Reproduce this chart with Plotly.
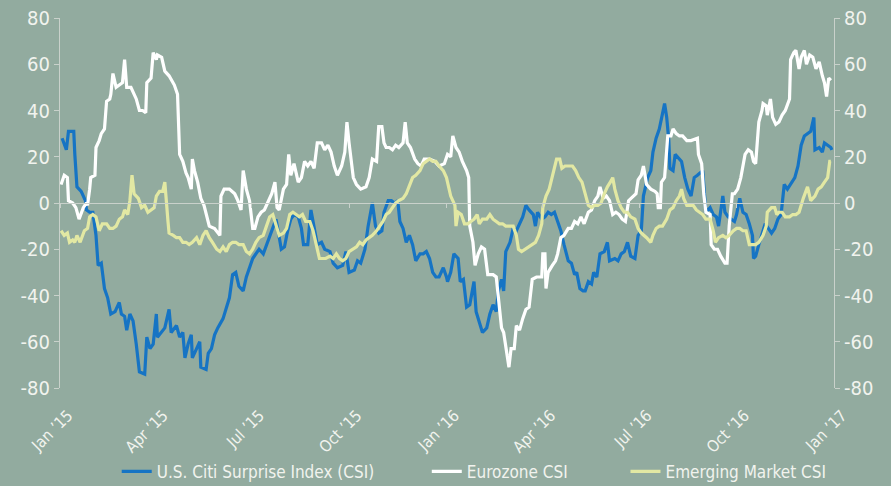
import plotly.graph_objects as go

# ---------------- data ----------------
us_dates = ["2015-01-03","2015-01-07","2015-01-09","2015-01-14","2015-01-15","2015-01-17","2015-01-21","2015-01-25","2015-01-26","2015-01-29",
"2015-02-01","2015-02-04","2015-02-06","2015-02-09","2015-02-12","2015-02-15","2015-02-18","2015-02-22","2015-02-26","2015-02-28",
"2015-03-03","2015-03-05","2015-03-08","2015-03-11","2015-03-14","2015-03-17","2015-03-22","2015-03-24","2015-03-27","2015-03-30",
"2015-04-02","2015-04-03","2015-04-10","2015-04-14","2015-04-16","2015-04-21","2015-04-24","2015-04-27","2015-04-29","2015-05-02",
"2015-05-05","2015-05-06","2015-05-10","2015-05-13","2015-05-14","2015-05-19","2015-05-21","2015-05-24","2015-05-27","2015-05-30",
"2015-06-04","2015-06-07","2015-06-10","2015-06-13","2015-06-16","2015-06-19","2015-06-23","2015-06-26","2015-06-29","2015-07-02",
"2015-07-05","2015-07-08","2015-07-12","2015-07-15","2015-07-18","2015-07-21","2015-07-24","2015-07-26","2015-07-29","2015-08-01",
"2015-08-04","2015-08-07","2015-08-10","2015-08-14","2015-08-17","2015-08-19","2015-08-23","2015-08-26","2015-08-29","2015-09-01",
"2015-09-05","2015-09-08","2015-09-13","2015-09-16","2015-09-20","2015-09-25","2015-09-28","2015-10-01","2015-10-06","2015-10-09",
"2015-10-12","2015-10-16","2015-10-19","2015-10-23","2015-10-26","2015-10-29","2015-11-01","2015-11-03","2015-11-07","2015-11-10",
"2015-11-13","2015-11-16","2015-11-18","2015-11-21","2015-11-24","2015-11-27","2015-11-30","2015-12-03","2015-12-07","2015-12-10",
"2015-12-13","2015-12-16","2015-12-19","2015-12-22","2015-12-25","2015-12-29","2016-01-01","2016-01-02","2016-01-05","2016-01-08",
"2016-01-12","2016-01-14","2016-01-17","2016-01-20","2016-01-23","2016-01-27","2016-01-29","2016-02-01","2016-02-04","2016-02-08",
"2016-02-11","2016-02-14","2016-02-17","2016-02-19","2016-02-22","2016-02-24","2016-02-26","2016-03-01","2016-03-04","2016-03-07",
"2016-03-10","2016-03-13","2016-03-16","2016-03-19","2016-03-23","2016-03-25","2016-03-27","2016-03-31","2016-04-03","2016-04-06",
"2016-04-09","2016-04-12","2016-04-15","2016-04-18","2016-04-21","2016-04-25","2016-04-28","2016-05-01","2016-05-03","2016-05-06",
"2016-05-09","2016-05-11","2016-05-14","2016-05-17","2016-05-19","2016-05-22","2016-05-25","2016-05-29","2016-06-01","2016-06-03",
"2016-06-08","2016-06-11","2016-06-14","2016-06-17","2016-06-20","2016-06-23","2016-06-27","2016-06-30","2016-07-03","2016-07-05",
"2016-07-09","2016-07-12","2016-07-14","2016-07-17","2016-07-20","2016-07-23","2016-07-25","2016-07-27","2016-07-29","2016-07-30",
"2016-08-02","2016-08-04","2016-08-08","2016-08-10","2016-08-13","2016-08-16","2016-08-19","2016-08-22","2016-08-25","2016-08-30",
"2016-09-02","2016-09-06","2016-09-09","2016-09-12","2016-09-14","2016-09-18","2016-09-20","2016-09-23","2016-09-26","2016-09-29",
"2016-10-01","2016-10-04","2016-10-07","2016-10-10","2016-10-13","2016-10-16","2016-10-17","2016-10-19","2016-10-22","2016-10-25",
"2016-10-28","2016-10-31","2016-11-03","2016-11-06","2016-11-09","2016-11-12","2016-11-15","2016-11-18","2016-11-22","2016-11-25",
"2016-11-28","2016-12-01","2016-12-04","2016-12-07","2016-12-10","2016-12-13","2016-12-14","2016-12-18","2016-12-21","2016-12-23",
"2016-12-26","2016-12-29","2016-12-30"]
us_csi = [28,23,31,31,21,7,5,1,-3,-4,
-4,-14,-27,-26,-37,-41,-48,-47,-43,-48,
-49,-55,-48,-51,-61,-73,-74,-58,-63,-61,
-48,-58,-54,-46,-56,-53,-58,-56,-67,-61,
-57,-67,-63,-60,-71,-72,-65,-63,-57,-54,
-50,-45,-41,-31,-30,-36,-38,-32,-28,-24,
-22,-20,-22,-18,-15,-11,-7,-12,-20,-19,
-12,-7,-5,-6,-11,-18,-18,-3,-11,-18,
-17,-20,-21,-26,-28,-27,-21,-30,-29,-25,
-26,-20,-10,0,-10,-13,-12,-4,1,1,
0,1,-8,-11,-17,-14,-18,-25,-22,-22,
-21,-24,-30,-32,-32,-28,-32,-34,-30,-22,
-24,-34,-33,-45,-44,-34,-47,-51,-56,-54,
-48,-44,-47,-38,-33,-38,-21,-17,-11,-12,
-9,-6,-1,-3,-5,-10,-4,-7,-6,-4,
-5,-4,-8,-12,-18,-25,-26,-31,-30,-37,
-38,-38,-34,-35,-30,-32,-22,-21,-17,-25,
-24,-25,-22,-21,-17,-23,-24,-14,-12,3,
11,14,22,28,32,38,43,37,27,15,
14,21,19,18,11,6,3,11,12,14,
-4,-2,-5,-6,-10,3,-4,-6,-7,-8,
-5,2,-4,-5,-9,-14,-24,-23,-18,-14,
-9,-11,-13,-11,-7,-5,8,6,9,11,
16,25,29,30,31,37,23,24,22,26,
25,24,23]

ez_dates = ["2015-01-02","2015-01-05","2015-01-08","2015-01-09","2015-01-13","2015-01-16","2015-01-19","2015-01-23","2015-01-26","2015-01-27",
"2015-01-29","2015-01-30","2015-02-03","2015-02-04","2015-02-07","2015-02-09","2015-02-12","2015-02-14","2015-02-17","2015-02-18",
"2015-02-20","2015-02-23","2015-02-26","2015-03-01","2015-03-03","2015-03-05","2015-03-09","2015-03-14","2015-03-17","2015-03-20",
"2015-03-23","2015-03-24","2015-03-28","2015-03-30","2015-04-02","2015-04-03","2015-04-07","2015-04-10","2015-04-14","2015-04-19",
"2015-04-22","2015-04-24","2015-04-27","2015-04-30","2015-05-02","2015-05-05","2015-05-06","2015-05-08","2015-05-11","2015-05-14",
"2015-05-17","2015-05-19","2015-05-22","2015-05-27","2015-06-01","2015-06-02","2015-06-05","2015-06-10","2015-06-15","2015-06-18",
"2015-06-21","2015-06-23","2015-06-26","2015-06-29","2015-07-02","2015-07-04","2015-07-07","2015-07-10","2015-07-13","2015-07-16",
"2015-07-20","2015-07-23","2015-07-25","2015-07-27","2015-07-31","2015-08-03","2015-08-05","2015-08-07","2015-08-10","2015-08-14",
"2015-08-17","2015-08-20","2015-08-23","2015-08-26","2015-08-29","2015-09-01","2015-09-05","2015-09-08","2015-09-11","2015-09-14",
"2015-09-17","2015-09-20","2015-09-24","2015-09-27","2015-09-29","2015-10-01","2015-10-05","2015-10-08","2015-10-12","2015-10-17",
"2015-10-20","2015-10-23","2015-10-27","2015-10-29","2015-11-01","2015-11-03","2015-11-05","2015-11-08","2015-11-11","2015-11-14",
"2015-11-17","2015-11-21","2015-11-23","2015-11-25","2015-11-28","2015-12-02","2015-12-05","2015-12-08","2015-12-11","2015-12-16",
"2015-12-21","2015-12-25","2015-12-30","2016-01-02","2016-01-05","2016-01-07","2016-01-10","2016-01-13","2016-01-16","2016-01-20",
"2016-01-22","2016-01-23","2016-01-26","2016-01-28","2016-01-31","2016-02-03","2016-02-06","2016-02-09","2016-02-14","2016-02-17",
"2016-02-19","2016-02-22","2016-02-24","2016-02-26","2016-02-29","2016-03-02","2016-03-05","2016-03-07","2016-03-10","2016-03-13",
"2016-03-16","2016-03-19","2016-03-22","2016-03-26","2016-03-31","2016-04-01","2016-04-03","2016-04-04","2016-04-06","2016-04-10",
"2016-04-13","2016-04-15","2016-04-18","2016-04-21","2016-04-25","2016-04-28","2016-05-01","2016-05-04","2016-05-07","2016-05-10",
"2016-05-14","2016-05-17","2016-05-20","2016-05-23","2016-05-25","2016-05-28","2016-05-31","2016-06-03","2016-06-06","2016-06-09",
"2016-06-12","2016-06-15","2016-06-18","2016-06-21","2016-06-25","2016-06-28","2016-06-30","2016-07-03","2016-07-05","2016-07-08",
"2016-07-12","2016-07-16","2016-07-18","2016-07-19","2016-07-21","2016-07-22","2016-07-25","2016-07-27","2016-07-28","2016-07-31",
"2016-08-02","2016-08-05","2016-08-08","2016-08-11","2016-08-15","2016-08-19","2016-08-25","2016-08-26","2016-08-29","2016-08-31",
"2016-09-02","2016-09-06","2016-09-07","2016-09-10","2016-09-13","2016-09-16","2016-09-20","2016-09-22","2016-09-24","2016-09-27",
"2016-09-29","2016-10-02","2016-10-05","2016-10-09","2016-10-12","2016-10-15","2016-10-17","2016-10-19","2016-10-22","2016-10-25",
"2016-10-26","2016-10-29","2016-10-30","2016-11-02","2016-11-04","2016-11-07","2016-11-10","2016-11-13","2016-11-16","2016-11-20",
"2016-11-21","2016-11-24","2016-11-26","2016-11-29","2016-12-01","2016-12-04","2016-12-06","2016-12-09","2016-12-12","2016-12-15",
"2016-12-18","2016-12-21","2016-12-23","2016-12-25","2016-12-27","2016-12-29"]
ez_csi = [8,12,11,1,0,-2,-7,-2,0,-1,
6,11,12,24,27,30,32,44,45,47,
56,50,51,52,62,50,50,45,40,40,
39,52,54,65,62,64,63,57,55,51,
47,21,18,13,11,6,19,14,9,2,
-1,-5,-10,-11,-14,3,6,6,4,1,
-3,14,6,1,-11,-11,-6,-4,-3,0,
4,9,-2,-3,6,8,21,12,17,9,
11,18,16,18,15,26,26,23,25,22,
16,12,16,22,35,26,11,8,6,7,
11,19,18,33,33,26,24,24,23,25,
24,26,35,26,24,19,17,16,19,19,
18,16,17,21,20,29,24,22,18,14,
11,-10,-17,-27,-22,-19,-20,-31,-31,-32,
-40,-54,-56,-63,-71,-63,-63,-53,-55,-50,
-46,-45,-33,-32,-32,-22,-22,-37,-30,-27,
-25,-22,-15,-14,-11,-11,-8,-9,-6,-9,
-4,-3,1,3,7,2,3,1,-5,-4,
-5,-7,-8,1,3,4,10,12,16,8,
6,5,4,-2,-2,9,11,25,29,29,
32,30,29,29,27,27,28,21,17,4,
-4,-5,-18,-20,-20,-23,-26,-26,-10,4,
4,6,11,21,23,22,18,17,35,40,
43,42,38,45,37,34,35,38,40,45,
62,65,66,58,63,66,60,64,63,58,
61,55,52,46,54,53]

em_dates = ["2015-01-02","2015-01-05","2015-01-08","2015-01-10","2015-01-13","2015-01-15","2015-01-17","2015-01-20","2015-01-24","2015-01-27",
"2015-01-29","2015-02-01","2015-02-04","2015-02-07","2015-02-10","2015-02-14","2015-02-17","2015-02-20","2015-02-23","2015-02-26",
"2015-03-01","2015-03-03","2015-03-06","2015-03-08","2015-03-10","2015-03-12","2015-03-16","2015-03-19","2015-03-22","2015-03-25",
"2015-03-28","2015-03-31","2015-04-02","2015-04-05","2015-04-08","2015-04-10","2015-04-13","2015-04-14","2015-04-18","2015-04-21",
"2015-04-24","2015-04-27","2015-04-30","2015-05-03","2015-05-06","2015-05-10","2015-05-13","2015-05-16","2015-05-19","2015-05-22",
"2015-05-25","2015-05-29","2015-06-01","2015-06-04","2015-06-07","2015-06-10","2015-06-13","2015-06-16","2015-06-19","2015-06-23",
"2015-06-26","2015-06-29","2015-07-02","2015-07-05","2015-07-08","2015-07-12","2015-07-15","2015-07-18","2015-07-21","2015-07-24",
"2015-07-27","2015-07-31","2015-08-03","2015-08-06","2015-08-09","2015-08-12","2015-08-15","2015-08-18","2015-08-21","2015-08-25",
"2015-08-28","2015-08-31","2015-09-03","2015-09-06","2015-09-09","2015-09-13","2015-09-16","2015-09-19","2015-09-22","2015-09-25",
"2015-09-28","2015-10-01","2015-10-05","2015-10-08","2015-10-11","2015-10-14","2015-10-17","2015-10-20","2015-10-23","2015-10-27",
"2015-10-30","2015-11-02","2015-11-05","2015-11-08","2015-11-11","2015-11-14","2015-11-17","2015-11-21","2015-11-24","2015-11-27",
"2015-11-30","2015-12-03","2015-12-07","2015-12-10","2015-12-13","2015-12-16","2015-12-19","2015-12-22","2015-12-25","2015-12-29",
"2016-01-01","2016-01-05","2016-01-09","2016-01-10","2016-01-12","2016-01-15","2016-01-18","2016-01-21","2016-01-24","2016-01-27",
"2016-01-30","2016-02-01","2016-02-04","2016-02-08","2016-02-11","2016-02-14","2016-02-17","2016-02-20","2016-02-23","2016-02-26",
"2016-03-01","2016-03-04","2016-03-07","2016-03-09","2016-03-12","2016-03-15","2016-03-18","2016-03-22","2016-03-25","2016-03-28",
"2016-03-31","2016-04-01","2016-04-04","2016-04-07","2016-04-10","2016-04-14","2016-04-17","2016-04-19","2016-04-22","2016-04-25",
"2016-04-29","2016-05-02","2016-05-05","2016-05-08","2016-05-10","2016-05-14","2016-05-17","2016-05-20","2016-05-23","2016-05-26",
"2016-05-29","2016-06-01","2016-06-05","2016-06-06","2016-06-08","2016-06-11","2016-06-14","2016-06-17","2016-06-20","2016-06-23",
"2016-06-27","2016-06-30","2016-07-03","2016-07-06","2016-07-08","2016-07-12","2016-07-14","2016-07-17","2016-07-20","2016-07-23",
"2016-07-27","2016-07-30","2016-08-02","2016-08-05","2016-08-08","2016-08-10","2016-08-12","2016-08-15","2016-08-18","2016-08-21",
"2016-08-24","2016-08-27","2016-08-30","2016-09-02","2016-09-06","2016-09-09","2016-09-11","2016-09-14","2016-09-18","2016-09-21",
"2016-09-24","2016-09-28","2016-10-01","2016-10-04","2016-10-07","2016-10-10","2016-10-13","2016-10-16","2016-10-19","2016-10-22",
"2016-10-26","2016-10-29","2016-10-30","2016-11-03","2016-11-06","2016-11-08","2016-11-10","2016-11-13","2016-11-16","2016-11-20",
"2016-11-23","2016-11-26","2016-11-29","2016-12-03","2016-12-06","2016-12-07","2016-12-10","2016-12-14","2016-12-17","2016-12-20",
"2016-12-23","2016-12-26","2016-12-28","2016-12-29"]
em_csi = [-12,-14,-13,-17,-16,-17,-14,-17,-12,-11,
-6,-5,-6,-12,-9,-9,-11,-11,-10,-7,
-6,-3,-5,1,12,4,2,-2,-1,-4,
-3,-2,3,5,5,9,-8,-13,-14,-15,
-15,-17,-17,-18,-17,-15,-18,-14,-12,-15,
-17,-20,-21,-19,-21,-18,-17,-17,-18,-18,
-21,-22,-20,-17,-15,-14,-10,-6,-5,-9,
-14,-13,-11,-5,-4,-5,-6,-5,-8,-8,
-12,-18,-24,-24,-24,-23,-24,-22,-24,-25,
-24,-21,-20,-19,-17,-18,-16,-15,-14,-12,
-10,-8,-5,-4,-2,0,1,2,4,8,
11,12,14,17,18,19,18,18,16,14,
11,3,-1,-10,-4,-5,-9,-9,-8,-7,
-5,-9,-7,-7,-5,-7,-8,-9,-9,-10,
-10,-10,-14,-20,-21,-20,-19,-18,-17,-14,
-9,-2,3,6,11,19,19,15,16,16,
16,14,11,9,6,-1,-2,-1,-1,0,
4,7,10,11,6,1,-2,-4,-4,-6,
-7,-11,-13,-14,-15,-17,-14,-11,-10,-10,
-7,-3,-2,1,3,6,2,-1,-1,-1,
-3,-4,-5,-7,-7,-12,-17,-15,-14,-15,
-14,-12,-11,-11,-12,-12,-18,-18,-18,-17,
-14,-10,-4,-2,-2,-5,-4,-4,-6,-6,
-5,-5,-4,2,6,7,1,3,6,7,
9,11,18,18]

tick_dates = ["2015-01-01","2015-04-01","2015-07-01","2015-10-01","2016-01-01",
              "2016-04-01","2016-07-01","2016-10-01","2017-01-01"]
tick_labels = ["Jan \u201915","Apr \u201915","Jul \u201915","Oct \u201915","Jan \u201916",
               "Apr \u201916","Jul \u201916","Oct \u201916","Jan \u201917"]
y_ticks = [-80, -60, -40, -20, 0, 20, 40, 60, 80]
y_labels = ["-80", "-60", "-40", "-20", "0", "20", "40", "60", "80"]

# ---------------- style ----------------
BG = "#92AB9F"
AXIS = "#C9D1CB"
TXT = "#F1F3EE"
FONT = "DejaVu Sans Condensed, Roboto, sans-serif"

fig = go.Figure()
fig.add_trace(go.Scatter(x=us_dates, y=us_csi, mode="lines", name="U.S. Citi Surprise Index (CSI)",
                         line=dict(color="#1674C4", width=3.2), legend="legend"))
fig.add_trace(go.Scatter(x=ez_dates, y=ez_csi, mode="lines", name="Eurozone CSI",
                         line=dict(color="#FFFFFF", width=3.2), legend="legend2"))
fig.add_trace(go.Scatter(x=em_dates, y=em_csi, mode="lines", name="Emerging Market CSI",
                         line=dict(color="#E2E8A3", width=3.2), legend="legend3"))
# invisible helper so the right-hand axis and the zero-line tick axis are drawn
fig.add_trace(go.Scatter(x=em_dates, y=em_csi, mode="lines", xaxis="x2", yaxis="y2",
                         line=dict(width=0), opacity=0, showlegend=False, hoverinfo="skip"))

axis_common = dict(range=[-80, 80], tickmode="array", tickvals=y_ticks, ticktext=y_labels,
                   tickfont=dict(size=20, color=TXT), showgrid=False, zeroline=False,
                   showline=True, linecolor=AXIS, linewidth=1.2,
                   ticks="outside", ticklen=5, tickcolor=AXIS, tickwidth=1.2)

def legend_at(xpos):
    return dict(orientation="h", xref="container", yref="container",
                x=xpos, xanchor="left", y=0.029, yanchor="middle",
                font=dict(size=17, color=TXT), bgcolor="rgba(0,0,0,0)", itemwidth=30)

fig.update_layout(
    width=891, height=486,
    margin=dict(l=60, r=57, t=18, b=98, autoexpand=False),
    paper_bgcolor=BG, plot_bgcolor=BG,
    font=dict(family=FONT, color=TXT),
    showlegend=True,
    legend=legend_at(0.131),
    legend2=legend_at(0.479),
    legend3=legend_at(0.702),
    xaxis=dict(type="date", range=["2015-01-01", "2017-01-01"], tickmode="array",
               tickvals=tick_dates, ticktext=tick_labels, tickangle=-45,
               tickfont=dict(size=16, color=TXT), showgrid=False, zeroline=False,
               showline=False, ticks="", ticklabelstandoff=14, ticklabelshift=8),
    xaxis2=dict(type="date", overlaying="x", matches="x", anchor="free", position=0.5,
                tickmode="array", tickvals=tick_dates, showticklabels=False,
                ticks="outside", ticklen=4, tickcolor=AXIS, tickwidth=1.2,
                showline=True, linecolor=AXIS, linewidth=1.2, showgrid=False, zeroline=False),
    yaxis=dict(**axis_common),
    yaxis2=dict(**axis_common, overlaying="y", side="right", anchor="x"),
)

fig.write_html("out.html", config={"responsive": False, "displayModeBar": False},
               post_script="document.body.style.margin='0';document.body.style.overflow='hidden';")
